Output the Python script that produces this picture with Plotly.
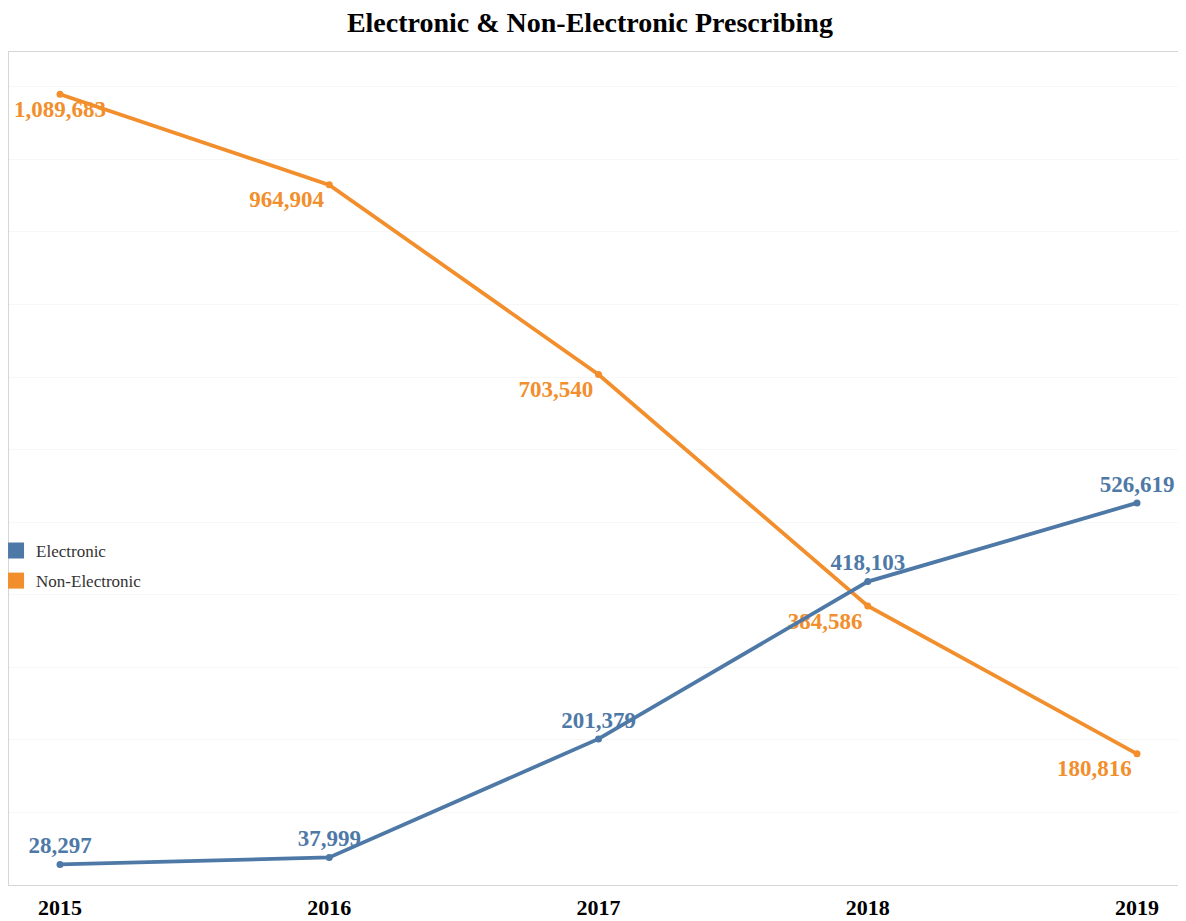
import plotly.graph_objects as go

years = [2015, 2016, 2017, 2018, 2019]
electronic = [28297, 37999, 201379, 418103, 526619]
non_electronic = [1089683, 964904, 703540, 384586, 180816]
year_labels = ["2015", "2016", "2017", "2018", "2019"]

blue = "#4e79a7"
orange = "#f28e2b"
serif = "Liberation Serif, Times New Roman, serif"

def fmt(v):
    return f"{v:,}"

fig = go.Figure()

fig.add_trace(go.Scatter(
    x=years, y=non_electronic, mode="lines+markers+text",
    line=dict(color=orange, width=3.8), marker=dict(color=orange, size=7),
    text=[fmt(v) for v in non_electronic],
    textposition=["bottom center", "bottom left", "bottom left", "bottom left", "bottom left"],
    textfont=dict(family=serif, size=23, color=orange, weight="bold"),
    showlegend=False, cliponaxis=False, hoverinfo="skip",
))
fig.add_trace(go.Scatter(
    x=years, y=electronic, mode="lines+markers+text",
    line=dict(color=blue, width=3.8), marker=dict(color=blue, size=7),
    text=[fmt(v) for v in electronic],
    textposition="top center",
    textfont=dict(family=serif, size=23, color=blue, weight="bold"),
    showlegend=False, cliponaxis=False, hoverinfo="skip",
))

# legend-only entries with square swatches
for name, col in [("Electronic", blue), ("Non-Electronic", orange)]:
    fig.add_trace(go.Scatter(
        x=[None], y=[None], mode="markers", name=name, legendgroup=name,
        marker=dict(symbol="square", color=col, size=18),
    ))

fig.update_layout(
    width=1178, height=913,
    margin=dict(l=1, r=0, t=44, b=36, autoexpand=False),
    paper_bgcolor="white", plot_bgcolor="white",
    title=dict(text="Electronic & Non-Electronic Prescribing", x=0.494, xanchor="center",
               y=1.0, yanchor="top", pad=dict(t=4),
               font=dict(family=serif, size=28, color="black", weight="bold")),
    legend=dict(x=-0.011, y=0.383, xanchor="left", yanchor="middle",
                bgcolor="rgba(255,255,255,0)",
                font=dict(family=serif, size=17, color="#333333"),
                itemwidth=30, tracegroupgap=5),
    xaxis=dict(range=[2014.8106, 2019.182], tickvals=years, ticktext=year_labels,
               showgrid=False, zeroline=False, showline=True, mirror=True,
               linecolor="#d6d6d6", linewidth=1, ticks="", ticklabelstandoff=3,
               tickfont=dict(family=serif, size=22, color="black", weight="bold")),
    yaxis=dict(range=[0, 1148000], dtick=100000, showticklabels=False,
               showgrid=True, gridcolor="#f7f7f7", zeroline=False,
               showline=True, linecolor="#d6d6d6", linewidth=1, ticks=""),
)

fig.write_html("out.html")
